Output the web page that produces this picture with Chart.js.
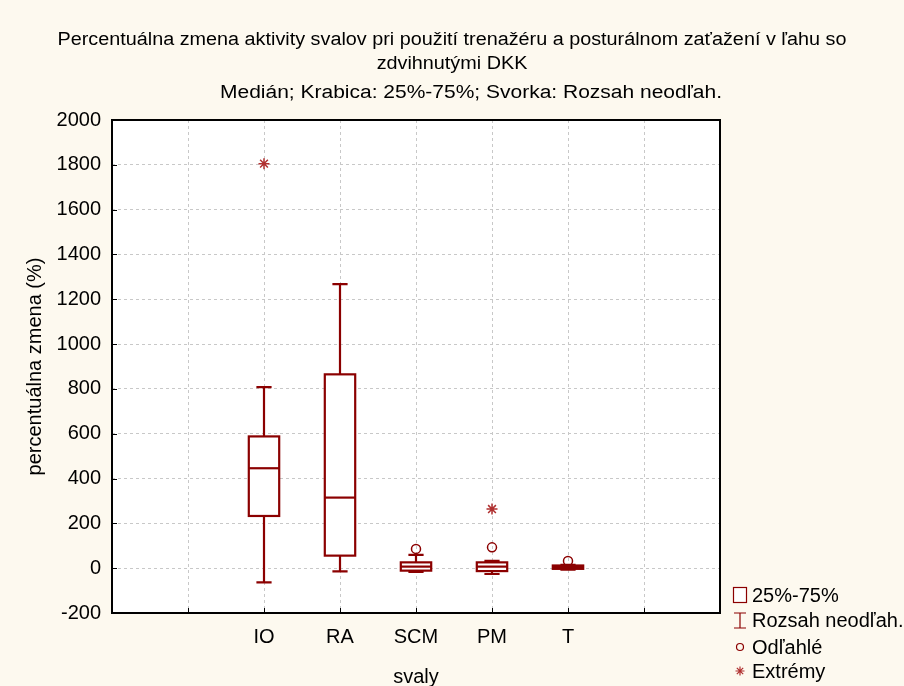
<!DOCTYPE html>
<html>
<head>
<meta charset="utf-8">
<script src="https://cdn.jsdelivr.net/npm/chart.js@4/dist/chart.umd.min.js"></script>
<style>
  html, body { margin: 0; padding: 0; background: #fdf9ef; }
  #wrap { width: 904px; height: 686px; }
</style>
</head>
<body>
<div id="wrap"><canvas id="chart" width="904" height="686"></canvas></div>
<script>
// values
const muscles = ["IO", "RA", "SCM", "PM", "T"];
const whiskerLow = [-63, -14, -17, -26, -6];
const q1 = [233, 56, -11, -13, -3];
const median = [446, 315, 7, 7, 5];
const q3 = [588, 865, 26, 26, 12];
const whiskerHigh = [808, 1268, 59, 33, 15];
const outliers = [[], [], [86], [93], [32]];
const extremes = [[1805], [], [], [264], []];
const yTicks = [-200, 0, 200, 400, 600, 800, 1000, 1200, 1400, 1600, 1800, 2000];

const FONT = "'Liberation Sans', Arial, sans-serif";
const RED = "#8b0000";
const STAR_RED = "#b03030";
const firstSlot = 2; // IO sits on the 2nd vertical grid line

const outlierPts = [];
const extremePts = [];
muscles.forEach((m, i) => {
  outliers[i].forEach(v => outlierPts.push({ x: i + firstSlot, y: v }));
  extremes[i].forEach(v => extremePts.push({ x: i + firstSlot, y: v }));
});

// text squeezed/stretched horizontally to the width seen in the picture
function fitText(ctx, text, cx, cy, scaleX) {
  ctx.save();
  ctx.translate(cx, cy);
  ctx.scale(scaleX, 1);
  ctx.fillText(text, 0, 0);
  ctx.restore();
}

// draws boxes + whiskers through the scales
const boxPlugin = {
  id: "boxes",
  beforeDraw(chart) {
    const { ctx, chartArea: a } = chart;
    ctx.save();
    ctx.fillStyle = "#ffffff";
    ctx.fillRect(a.left, a.top, a.right - a.left, a.bottom - a.top);
    ctx.restore();
  },
  beforeDatasetsDraw(chart) {
    const { ctx } = chart;
    const xs = chart.scales.x, ys = chart.scales.y;
    ctx.save();
    ctx.strokeStyle = RED;
    ctx.lineWidth = 2.2;
    muscles.forEach((m, i) => {
      const cx = xs.getPixelForValue(i + firstSlot);
      const halfBox = (xs.getPixelForValue(0.2) - xs.getPixelForValue(0));
      const halfCap = (xs.getPixelForValue(0.1) - xs.getPixelForValue(0));
      const yLo = ys.getPixelForValue(whiskerLow[i]);
      const yQ1 = ys.getPixelForValue(q1[i]);
      const yMed = ys.getPixelForValue(median[i]);
      const yQ3 = ys.getPixelForValue(q3[i]);
      const yHi = ys.getPixelForValue(whiskerHigh[i]);
      ctx.beginPath();
      // whiskers
      ctx.moveTo(cx, yLo); ctx.lineTo(cx, yQ1);
      ctx.moveTo(cx, yQ3); ctx.lineTo(cx, yHi);
      ctx.moveTo(cx - halfCap, yLo); ctx.lineTo(cx + halfCap, yLo);
      ctx.moveTo(cx - halfCap, yHi); ctx.lineTo(cx + halfCap, yHi);
      ctx.stroke();
      ctx.fillStyle = "#ffffff";
      ctx.fillRect(cx - halfBox, yQ3, 2 * halfBox, yQ1 - yQ3);
      ctx.strokeRect(cx - halfBox, yQ3, 2 * halfBox, yQ1 - yQ3);
      ctx.beginPath();
      ctx.moveTo(cx - halfBox, yMed); ctx.lineTo(cx + halfBox, yMed);
      ctx.stroke();
    });
    ctx.restore();
  },
  afterDraw(chart) {
    const { ctx, chartArea: a } = chart;
    const xs = chart.scales.x, ys = chart.scales.y;
    ctx.save();
    // inner tick marks
    ctx.strokeStyle = "#000";
    ctx.lineWidth = 1;
    ctx.beginPath();
    yTicks.forEach(v => {
      const y = Math.round(ys.getPixelForValue(v)) + 0.5;
      ctx.moveTo(a.left, y); ctx.lineTo(a.left + 5, y);
    });
    for (let k = 1; k < 8; k++) {
      const x = Math.round(xs.getPixelForValue(k)) + 0.5;
      ctx.moveTo(x, a.bottom); ctx.lineTo(x, a.bottom - 5);
    }
    ctx.stroke();
    // frame
    ctx.lineWidth = 2;
    ctx.strokeRect(a.left, a.top, a.right - a.left, a.bottom - a.top);

    // legend
    const lx = 740;
    const rows = [595, 620, 647, 671];
    ctx.font = "20px " + FONT;
    ctx.fillStyle = "#000";
    ctx.textBaseline = "middle";
    ctx.textAlign = "left";
    ["25%-75%", "Rozsah neodľah.", "Odľahlé", "Extrémy"].forEach((t, k) => {
      ctx.fillText(t, lx + 12, rows[k] + 1);
    });
    ctx.strokeStyle = RED;
    ctx.lineWidth = 1.2;
    ctx.fillStyle = "#fff";
    ctx.fillRect(lx - 6.5, rows[0] - 7.5, 13, 15);
    ctx.strokeRect(lx - 6.5, rows[0] - 7.5, 13, 15);
    ctx.beginPath();
    ctx.moveTo(lx - 6, rows[1] - 7); ctx.lineTo(lx + 6, rows[1] - 7);
    ctx.moveTo(lx, rows[1] - 7); ctx.lineTo(lx, rows[1] + 8);
    ctx.moveTo(lx - 6, rows[1] + 8); ctx.lineTo(lx + 6, rows[1] + 8);
    ctx.stroke();
    ctx.beginPath();
    ctx.arc(lx, rows[2], 3.5, 0, Math.PI * 2);
    ctx.stroke();
    ctx.strokeStyle = STAR_RED;
    ctx.beginPath();
    for (let k = 0; k < 4; k++) {
      const ang = k * Math.PI / 4;
      ctx.moveTo(lx - 4.5 * Math.cos(ang), rows[3] - 4.5 * Math.sin(ang));
      ctx.lineTo(lx + 4.5 * Math.cos(ang), rows[3] + 4.5 * Math.sin(ang));
    }
    ctx.stroke();
    ctx.restore();
  }
};

const titlePlugin = {
  id: "titles",
  afterDraw(chart) {
    const ctx = chart.ctx;
    const line1 = "Percentuálna zmena aktivity svalov pri použití trenažéru a posturálnom zaťažení v ľahu so";
    const line2 = "zdvihnutými DKK";
    const sub = "Medián; Krabica: 25%-75%; Svorka: Rozsah neodľah.";
    ctx.save();
    ctx.fillStyle = "#000";
    ctx.textAlign = "center";
    ctx.textBaseline = "middle";
    ctx.font = "18px " + FONT;
    const s1 = 789 / ctx.measureText(line1).width;
    fitText(ctx, line1, 452, 40, s1);
    fitText(ctx, line2, 452, 64, s1);
    const s2 = 502 / ctx.measureText(sub).width;
    fitText(ctx, sub, 471, 93, s2);
    ctx.restore();
  }
};

new Chart(document.getElementById("chart"), {
  type: "scatter",
  data: {
    datasets: [
      {
        label: "Odľahlé",
        data: outlierPts,
        pointStyle: "circle",
        pointRadius: 4.5,
        borderColor: RED,
        borderWidth: 1.5,
        backgroundColor: "rgba(255,255,255,0)"
      },
      {
        label: "Extrémy",
        data: extremePts,
        pointStyle: "star",
        pointRadius: 5.5,
        borderColor: STAR_RED,
        borderWidth: 1.5,
        backgroundColor: STAR_RED
      }
    ]
  },
  options: {
    responsive: false,
    animation: false,
    events: [],
    layout: { padding: { top: 120, right: 184, left: 0, bottom: 0 } },
    plugins: {
      legend: { display: false },
      tooltip: { enabled: false },
      title: { display: false }
    },
    scales: {
      x: {
        type: "linear",
        min: 0,
        max: 8,
        afterFit: s => { s.height = 73; },
        ticks: {
          stepSize: 1,
          autoSkip: false,
          padding: 12,
          color: "#000",
          font: { family: FONT, size: 20 },
          callback: v => muscles[v - firstSlot] || ""
        },
        grid: { color: "#c8c8c8", drawTicks: false, lineWidth: 1 },
        border: { display: false, dash: [3, 3] },
        title: {
          display: true,
          text: "svaly",
          color: "#000",
          font: { family: FONT, size: 20 },
          padding: { top: 0, bottom: -3 }
        }
      },
      y: {
        min: -200,
        max: 2000,
        afterFit: s => { s.width = 112; },
        afterBuildTicks: s => { s.ticks = yTicks.map(v => ({ value: v })); },
        ticks: {
          padding: 11,
          color: "#000",
          font: { family: FONT, size: 20 },
          callback: v => String(v)
        },
        grid: { color: "#c8c8c8", drawTicks: false, lineWidth: 1 },
        border: { display: false, dash: [3, 3] },
        title: {
          display: true,
          text: "percentuálna zmena (%)",
          color: "#000",
          font: { family: FONT, size: 20 },
          padding: { top: 23, bottom: 0 }
        }
      }
    }
  },
  plugins: [boxPlugin, titlePlugin]
});
</script>
</body>
</html>
